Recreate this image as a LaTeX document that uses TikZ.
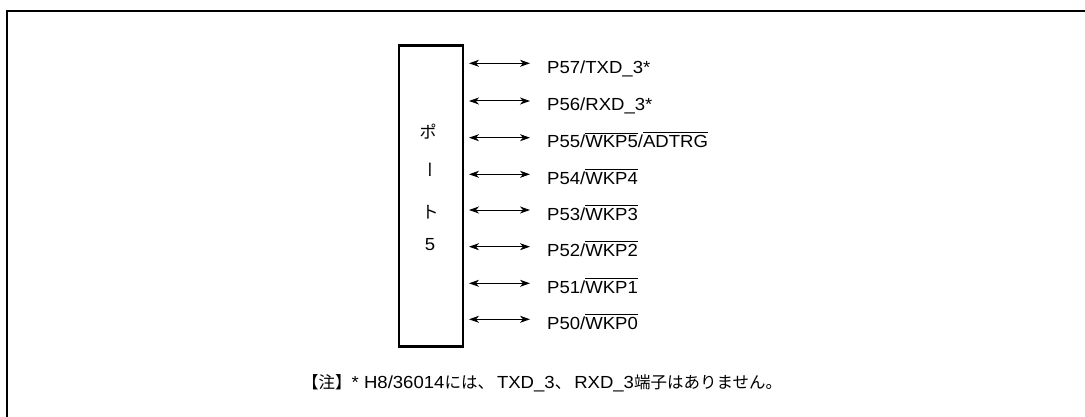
\documentclass[tikz,border=0pt]{standalone}
\usepackage{fontspec}
\setmainfont{Liberation Sans}[FakeStretch=1.06]
\newfontfamily\jp{Noto Sans CJK JP}
\newfontfamily\jpv{Noto Sans CJK JP}[RawFeature=+vert]
\usetikzlibrary{arrows.meta}
\newsavebox\ovbox
\newcommand{\ovl}[1]{\sbox\ovbox{#1}\rlap{\rule[\dimexpr\ht\ovbox+2.2pt\relax]{\wd\ovbox}{0.9pt}}\usebox\ovbox}
\newcommand{\jpc}{\hspace{3pt}}
\tikzset{
  frameline/.style={line width=2pt},
  portbox/.style={draw, line width=2.5pt, minimum width=64pt, minimum height=301pt, inner sep=0pt},
  lbl/.style={anchor=base west, inner sep=0pt, font=\fontsize{17.5}{20}\selectfont},
  jpch/.style={inner sep=0pt, anchor=base, font=\jp\fontsize{17}{20}\selectfont},
  bus/.style={{Stealth[length=10pt,width=7pt,inset=3pt]}-{Stealth[length=10pt,width=7pt,inset=3pt]}, line width=1pt, shorten <=5pt},
  note/.style={anchor=base west, inner sep=0pt, font=\fontsize{17.5}{20}\selectfont}
}
\begin{document}
\begin{tikzpicture}[x=1pt,y=-1pt]
\useasboundingbox (0,0) rectangle (1085,417);
\draw[frameline] (7,417) -- (7,11) -- (1085,11);
\node[portbox] (port) at (430.75,196.1) {};
\node[jpch] (c1) at (428,138.5) {ポ};
\node[inner sep=0pt, font=\jpv\fontsize{17}{20}\selectfont] (c2) at (430,170) {ー};
\node[jpch] (c3) at (430,218.5) {ト};
\node[inner sep=0pt, anchor=base, font=\fontsize{17.5}{20}\selectfont] (c4) at (430,250) {5};
% ends of the arrows
\coordinate (e7) at (530,63.3);
\coordinate (e6) at (530,101);
\coordinate (e5) at (530,137.7);
\coordinate (e4) at (530,174.3);
\coordinate (e3) at (530,210);
\coordinate (e2) at (530,246.7);
\coordinate (e1) at (530,283.3);
\coordinate (e0) at (530,319.3);
\node[lbl] (l7) at (547,73.3) {P57/TXD\_3*};
\node[lbl] (l6) at (547,111) {P56/RXD\_3*};
\node[lbl] (l5) at (547,147.7) {P55/\ovl{WKP5}/\ovl{ADTRG}};
\node[lbl] (l4) at (547,184.3) {P54/\ovl{WKP4}};
\node[lbl] (l3) at (547,220) {P53/\ovl{WKP3}};
\node[lbl] (l2) at (547,256.7) {P52/\ovl{WKP2}};
\node[lbl] (l1) at (547,293.3) {P51/\ovl{WKP1}};
\node[lbl] (l0) at (547,329.3) {P50/\ovl{WKP0}};
\foreach \i in {0,...,7} {
  \draw[bus] (port.east |- e\i) -- (e\i);
}
\node[note] (nt) at (302,388) {{\jp\fontsize{16.5}{20}\selectfont 【注】}* H8/36014{\jp\fontsize{16.5}{20}\selectfont には、}\jpc TXD\_3{\jp\fontsize{16.5}{20}\selectfont 、}\jpc RXD\_3{\jp\fontsize{16.5}{20}\selectfont 端子はありません。}};
\end{tikzpicture}
\end{document}
